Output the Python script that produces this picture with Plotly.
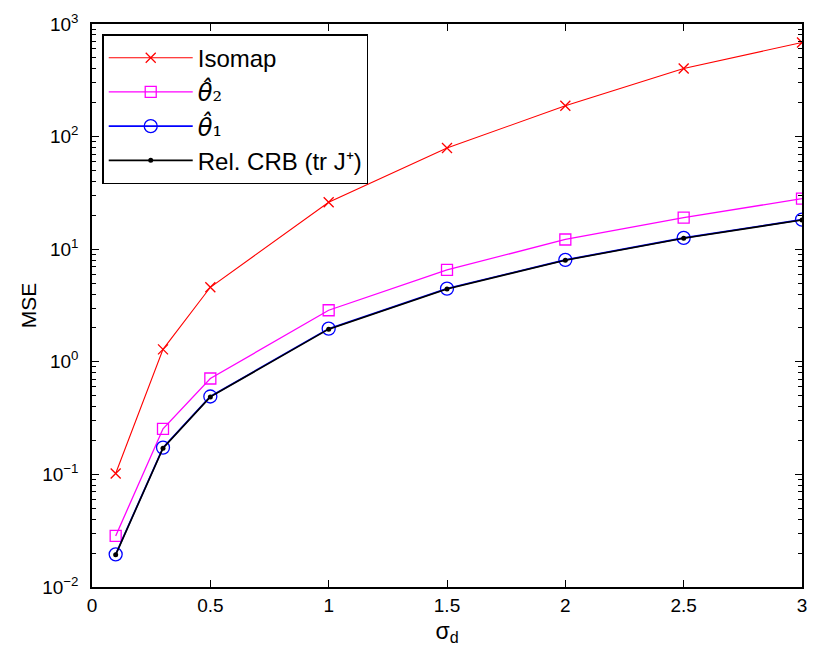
import plotly.graph_objects as go

sigma_d = [0.1, 0.3, 0.5, 1.0, 1.5, 2.0, 2.5, 3.0]
isomap = [0.102, 1.29, 4.59, 26.1, 79.2, 188, 403, 685]
theta2 = [0.0284, 0.254, 0.711, 2.87, 6.55, 12.2, 19.1, 28.1]
theta1 = [0.0195, 0.173, 0.492, 1.97, 4.47, 8.04, 12.6, 18.3]
crb = [0.0193, 0.171, 0.488, 1.95, 4.43, 7.98, 12.5, 18.2]

x_ticks = [0, 0.5, 1, 1.5, 2, 2.5, 3]
x_ticklabels = ["0", "0.5", "1", "1.5", "2", "2.5", "3"]
y_exponents = [-2, -1, 0, 1, 2, 3]

names = [
    "Isomap",
    "<span style='font-family:DejaVu Sans'><i>θ̂</i></span><span style='font-family:DejaVu Serif'>₂</span>",
    "<span style='font-family:DejaVu Sans'><i>θ̂</i></span><span style='font-family:DejaVu Serif'>₁</span>",
    "Rel. CRB (tr J⁺)",
]

fig = go.Figure()
fig.add_trace(go.Scatter(x=sigma_d, y=isomap, name=names[0], mode="lines+markers",
                         line=dict(color="#FF0000", width=1.1),
                         marker=dict(symbol="x-thin-open", size=10, color="#FF0000",
                                     line=dict(color="#FF0000", width=1.3))))
fig.add_trace(go.Scatter(x=sigma_d, y=theta2, name=names[1], mode="lines+markers",
                         line=dict(color="#FF00FF", width=1.3),
                         marker=dict(symbol="square-open", size=11, color="#FF00FF",
                                     line=dict(color="#FF00FF", width=1.3))))
fig.add_trace(go.Scatter(x=sigma_d, y=theta1, name=names[2], mode="lines+markers",
                         line=dict(color="#0000FF", width=1.6),
                         marker=dict(symbol="circle-open", size=13, color="#0000FF",
                                     line=dict(color="#0000FF", width=1.3))))
fig.add_trace(go.Scatter(x=sigma_d, y=crb, name=names[3], mode="lines+markers",
                         line=dict(color="#000000", width=1.6),
                         marker=dict(symbol="circle", size=5, color="#000000")))

minor_vals = [m * 10 ** k for k in range(-2, 3) for m in range(2, 10)]

fig.update_layout(
    width=815, height=658,
    margin=dict(l=92, r=8, t=24, b=71),
    paper_bgcolor="white", plot_bgcolor="white",
    font=dict(family="Liberation Sans, Arial, sans-serif", size=19, color="black"),
    showlegend=True,
    legend=dict(x=0.0144, y=0.982, xanchor="left", yanchor="top",
                bgcolor="white", bordercolor="black", borderwidth=1.5,
                font=dict(size=24), itemwidth=84, tracegroupgap=0),
    xaxis=dict(range=[0, 3], tickmode="array", tickvals=x_ticks, ticktext=x_ticklabels,
               ticks="inside", ticklen=7, tickwidth=1, tickcolor="black",
               showline=True, linecolor="black", linewidth=1.5, mirror="allticks",
               showgrid=False, zeroline=False,
               title=dict(text="σ<sub>d</sub>", standoff=8)),
    yaxis=dict(type="log", range=[-2, 3], tickmode="array",
               tickvals=[10 ** e for e in y_exponents],
               ticktext=[f"10<sup>{'−' + str(-e) if e < 0 else e}</sup>" for e in y_exponents],
               ticks="inside", ticklen=7, tickwidth=1, tickcolor="black",
               showline=True, linecolor="black", linewidth=1.5, mirror="allticks",
               showgrid=False, zeroline=False, ticklabelstandoff=8,
               minor=dict(tickmode="array", tickvals=minor_vals, ticks="inside",
                          ticklen=4, tickwidth=1, tickcolor="black", showgrid=False),
               title=dict(text="MSE", standoff=0, font=dict(size=21))),
)

fig.write_html("out.html")
